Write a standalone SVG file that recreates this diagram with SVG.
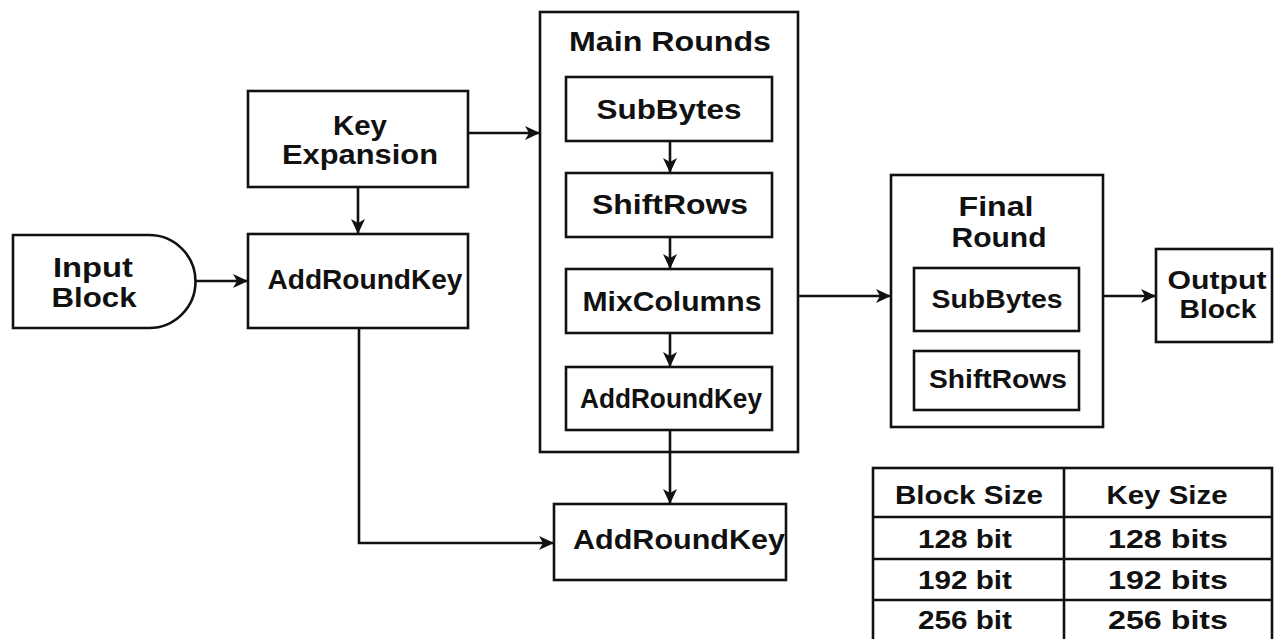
<svg xmlns="http://www.w3.org/2000/svg" width="1275" height="639" viewBox="0 0 1275 639">
<style>
.box{fill:#fff;stroke:#111;stroke-width:2.6}
.ln{fill:none;stroke:#111;stroke-width:2.6}
.t{font-family:"Liberation Sans",Arial,sans-serif;font-weight:bold;font-size:28px;fill:#111;text-anchor:middle}
.tb{font-family:"Liberation Sans",Arial,sans-serif;font-weight:bold;font-size:25px;fill:#111;text-anchor:middle}
</style>
<defs>
<marker id="ah" markerWidth="16" markerHeight="14" refX="14" refY="7" orient="auto" markerUnits="userSpaceOnUse">
<path d="M0,0 L15,7 L0,14 L4,7 z" fill="#111"/>
</marker>
</defs>
<rect width="1275" height="639" fill="#fff"/>

<g id="input-block">
<path class="box" d="M13,235 H149 A46.5,46.5 0 0 1 149,328 H13 Z"/>
<text class="t" x="93" y="277" textLength="80" lengthAdjust="spacingAndGlyphs">Input</text>
<text class="t" x="94" y="307" textLength="85" lengthAdjust="spacingAndGlyphs">Block</text>
</g>

<g id="key-expansion">
<rect class="box" x="248" y="91" width="220" height="96"/>
<text class="t" x="360" y="135" textLength="54" lengthAdjust="spacingAndGlyphs">Key</text>
<text class="t" x="360" y="164" textLength="156" lengthAdjust="spacingAndGlyphs">Expansion</text>
</g>

<g id="addroundkey-initial">
<rect class="box" x="248" y="234" width="220" height="94"/>
<text class="t" x="365" y="289" textLength="195" lengthAdjust="spacingAndGlyphs">AddRoundKey</text>
</g>

<g id="main-rounds">
<rect class="box" x="540" y="12" width="258" height="440"/>
<text class="t" x="670" y="51" textLength="202" lengthAdjust="spacingAndGlyphs">Main Rounds</text>
</g>

<g id="main-subbytes">
<rect class="box" x="566" y="77" width="206" height="64"/>
<text class="t" x="669" y="119" textLength="145" lengthAdjust="spacingAndGlyphs">SubBytes</text>
</g>

<g id="main-shiftrows">
<rect class="box" x="566" y="173" width="206" height="64"/>
<text class="t" x="670" y="214" textLength="156" lengthAdjust="spacingAndGlyphs">ShiftRows</text>
</g>

<g id="main-mixcolumns">
<rect class="box" x="566" y="269" width="206" height="64"/>
<text class="t" x="672" y="311" textLength="179" lengthAdjust="spacingAndGlyphs">MixColumns</text>
</g>

<g id="main-addroundkey">
<rect class="box" x="566" y="367" width="206" height="63"/>
<text class="t" x="671" y="408" textLength="182" lengthAdjust="spacingAndGlyphs">AddRoundKey</text>
</g>

<g id="addroundkey-final">
<rect class="box" x="554" y="504" width="232" height="76"/>
<text class="t" x="679" y="549" textLength="212" lengthAdjust="spacingAndGlyphs">AddRoundKey</text>
</g>

<g id="final-round">
<rect class="box" x="891" y="175" width="212" height="252"/>
<text class="t" x="996" y="216" textLength="75" lengthAdjust="spacingAndGlyphs">Final</text>
<text class="t" x="999" y="247" textLength="95" lengthAdjust="spacingAndGlyphs">Round</text>
</g>

<g id="final-subbytes">
<rect class="box" x="914" y="268" width="165" height="63"/>
<text class="tb" x="997" y="308" textLength="131" lengthAdjust="spacingAndGlyphs">SubBytes</text>
</g>

<g id="final-shiftrows">
<rect class="box" x="914" y="351" width="165" height="59"/>
<text class="tb" x="998" y="388" textLength="138" lengthAdjust="spacingAndGlyphs">ShiftRows</text>
</g>

<g id="output-block">
<rect class="box" x="1156" y="249" width="116" height="93"/>
<text class="tb" x="1217" y="289" textLength="99" lengthAdjust="spacingAndGlyphs">Output</text>
<text class="tb" x="1218" y="318" textLength="77" lengthAdjust="spacingAndGlyphs">Block</text>
</g>

<g id="size-table">
<rect class="box" x="873" y="468" width="399" height="175"/>
<line class="ln" x1="1064" y1="468" x2="1064" y2="643"/>
<line class="ln" x1="873" y1="517" x2="1272" y2="517"/>
<line class="ln" x1="873" y1="559" x2="1272" y2="559"/>
<line class="ln" x1="873" y1="600" x2="1272" y2="600"/>
<text class="tb" x="969" y="504" textLength="148" lengthAdjust="spacingAndGlyphs">Block Size</text>
<text class="tb" x="1167" y="504" textLength="121" lengthAdjust="spacingAndGlyphs">Key Size</text>
<text class="tb" x="965" y="548" textLength="94" lengthAdjust="spacingAndGlyphs">128 bit</text>
<text class="tb" x="1168" y="548" textLength="120" lengthAdjust="spacingAndGlyphs">128 bits</text>
<text class="tb" x="965" y="589" textLength="94" lengthAdjust="spacingAndGlyphs">192 bit</text>
<text class="tb" x="1168" y="589" textLength="120" lengthAdjust="spacingAndGlyphs">192 bits</text>
<text class="tb" x="965" y="629" textLength="94" lengthAdjust="spacingAndGlyphs">256 bit</text>
<text class="tb" x="1168" y="629" textLength="120" lengthAdjust="spacingAndGlyphs">256 bits</text>
</g>

<g id="connectors">
<line class="ln" x1="195" y1="281" x2="247" y2="281" marker-end="url(#ah)"/>
<line class="ln" x1="358" y1="187" x2="358" y2="233" marker-end="url(#ah)"/>
<line class="ln" x1="468" y1="133" x2="539" y2="133" marker-end="url(#ah)"/>
<line class="ln" x1="670" y1="141" x2="670" y2="172" marker-end="url(#ah)"/>
<line class="ln" x1="670" y1="237" x2="670" y2="268" marker-end="url(#ah)"/>
<line class="ln" x1="670" y1="333" x2="670" y2="366" marker-end="url(#ah)"/>
<line class="ln" x1="670" y1="430" x2="670" y2="503" marker-end="url(#ah)"/>
<polyline class="ln" points="359,328 359,543 553,543" marker-end="url(#ah)"/>
<line class="ln" x1="798" y1="296" x2="890" y2="296" marker-end="url(#ah)"/>
<line class="ln" x1="1103" y1="296" x2="1155" y2="296" marker-end="url(#ah)"/>
</g>
</svg>
